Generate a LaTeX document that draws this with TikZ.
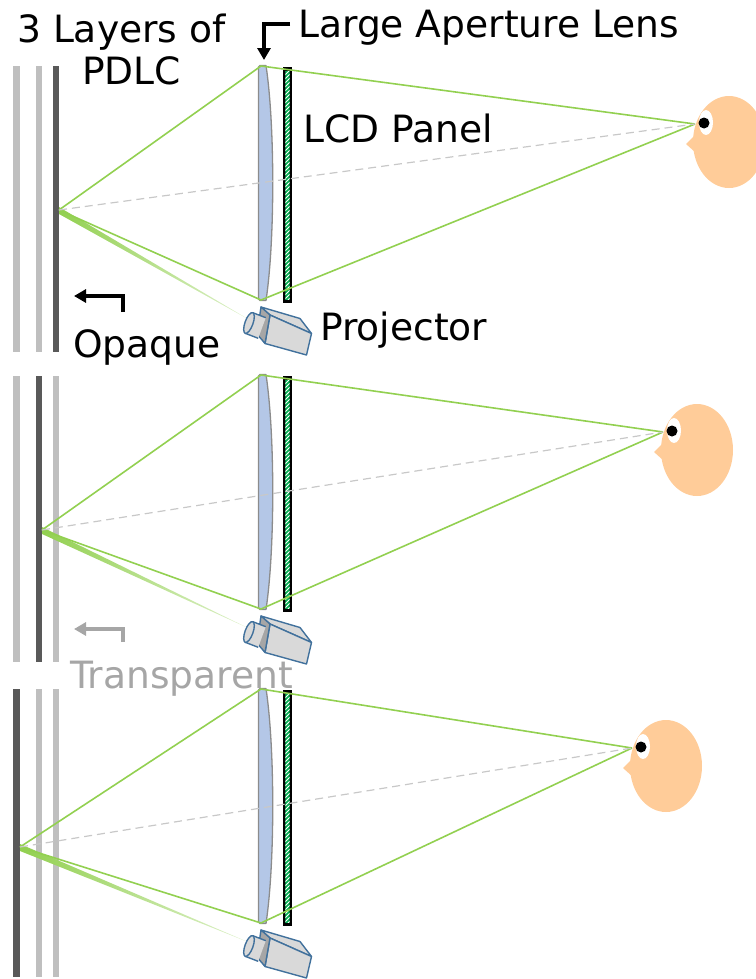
\documentclass[tikz,border=0pt]{standalone}
\usepackage{fontspec}
\setmainfont{DejaVu Sans}
\usetikzlibrary{arrows.meta,calc}

\definecolor{raygreen}{HTML}{92D050}
\definecolor{axisgray}{HTML}{C8C8C8}
\definecolor{layerlight}{HTML}{BFBFBF}
\definecolor{layerdark}{HTML}{595959}
\definecolor{lensfill}{HTML}{B4C7E7}
\definecolor{lensedge}{HTML}{8C8C8C}
\definecolor{lcdgreen}{HTML}{00B050}
\definecolor{skin}{HTML}{FFCC99}
\definecolor{camedge}{HTML}{41719C}
\definecolor{camfill}{HTML}{D9D9D9}
\definecolor{camdark}{HTML}{A6A6A6}
\definecolor{labelgray}{HTML}{A6A6A6}

\tikzset{
  ray/.style={draw=raygreen, line width=1.6bp, line join=round},
  opticaxis/.style={draw=axisgray, line width=1.2bp, dash pattern=on 8bp off 5bp},
  pdlcbar/.style={line width=6.5bp},
  lensbody/.style={fill=lensfill, draw=lensedge, line width=1.3bp, line join=round},
  txt/.style={inner sep=0pt, anchor=base west, font=\fontsize{37.6bp}{45bp}\selectfont},
  pointer/.style={line width=4.3bp, -{Triangle[length=12bp,width=13bp]}},
  camface/.style={fill=camfill, draw=camedge, line width=1.4bp, line join=round},
}

\begin{document}
\begin{tikzpicture}[x=1bp,y=-1bp]
\useasboundingbox (0,0) rectangle (756,979);
\clip (0,0) rectangle (756,979);

% three stacked set-ups: PDLC stack, lens, LCD, projector and viewer
\foreach \p/\lt/\lb/\dk/\vx/\vy/\ly/\ex/\ey in
  {a/66/352/3/59/210/66/695/124,
   b/376/662/2/42/530/375/663/432,
   c/689/977/1/20/847/689/632/748}{
  % PDLC layers, the opaque one dark
  \foreach \i/\lx in {1/16.5,2/39,3/56}{
    \ifnum\i=\dk \def\lc{layerdark}\else\def\lc{layerlight}\fi
    \draw[pdlcbar, draw=\lc] (\lx,\lt) -- (\lx,\lb);
  }
  \coordinate (v\p) at (\vx,\vy);
  \coordinate (lt\p) at (261,\ly);
  \coordinate (lb\p) at (261,\ly+234);
  \coordinate (e\p) at (\ex,\ey);
  \coordinate (pj\p) at (248,\ly+253);

  % projected beam onto the opaque layer
  \shade[left color=raygreen, right color=raygreen!30]
    ($(v\p)+(0,-3)$) -- (pj\p) -- ($(v\p)+(0,4)$) -- cycle;

  % large aperture lens
  \draw[lensbody] (258.5,\ly+1) -- (258.5,\ly+233) -- (260,\ly+234.5) -- (266,\ly+234.5)
    .. controls (275,\ly+175) and (275,\ly+59) .. (266,\ly-0.5)
    -- (260,\ly-0.5) -- cycle;

  % LCD panel with hatched active area
  \fill[black] (283,\ly+1) rectangle (292,\ly+237);
  \begin{scope}
    \clip (285.3,\ly+5) rectangle (289.7,\ly+233);
    \fill[lcdgreen] (284,\ly) rectangle (291,\ly+240);
    \foreach \k in {0,...,61}
      \draw[white, line width=0.9bp] (283,\ly+3+\k*4) -- (292,\ly+3+\k*4-9);
  \end{scope}

  % rays and optical axis
  \draw[ray] (v\p) -- (lt\p) -- (e\p);
  \draw[ray] (v\p) -- (lb\p) -- (e\p);
  \draw[opticaxis] (v\p) -- (e\p);

  % viewer head
  \fill[skin] (\ex+34,\ey+18) ellipse [x radius=36, y radius=46];
  \fill[skin] (\ex+3,\ey+8) -- (\ex-9,\ey+20) -- (\ex+1,\ey+29) -- (\ex+10,\ey+20) -- cycle;
  \fill[white] (\ex+11,\ey-1.5) ellipse [x radius=7, y radius=12.5];
  \fill[black] (\ex+9,\ey-1) circle [radius=5.5];

  % projector: box body seen from above-front, lens barrel in front
  \begin{scope}[shift={(278,\ly+265)}]
    \draw[camface] (-17,-24) -- (22,-12.5) -- (33.5,2.5) -- (-8,-16) -- cycle;
    \draw[camface] (-8,-16) -- (33.5,2.5) -- (28.5,24) -- (-13,12.5) -- cycle;
    \draw[camface, fill=camdark] (-17,-24) -- (-8,-16) -- (-13,12.5) -- (-21,3) -- cycle;
    \fill[camfill] (-25.2,-18.3) -- (-12.2,-13.3) -- (-19.8,7.3) -- (-32.8,2.3) -- cycle;
    \draw[camedge, line width=1.4bp] (-25.2,-18.3) -- (-12.2,-13.3)
      (-32.8,2.3) -- (-19.8,7.3);
    \draw[camface, rotate around={-20:(-29,-8)}] (-29,-8) ellipse [x radius=4, y radius=11];
  \end{scope}
}

% labels
\node[txt] (lenslabel) at (298,37) {Large Aperture Lens};
\node[txt] (pdlcA) at (17,42) {3 Layers of};
\node[txt] (pdlcB) at (82,84) {PDLC};
\node[txt] (lcdlabel) at (303,142) {LCD Panel};
\node[txt] (projlabel) at (320,340) {Projector};
\node[txt] (opaque) at (73,357) {Opaque};
\node[txt, text=labelgray] (transp) at (70,688) {Transparent};

% pointers
\coordinate (lensA) at (290,24);
\coordinate (lensB) at (264,24);
\coordinate (lensC) at (264,60);
\draw[pointer] (lensA) -- (lensB) -- (lensC);
\coordinate (opA) at (123,312);
\coordinate (opB) at (123,296);
\coordinate (opC) at (74,296);
\draw[pointer] (opA) -- (opB) -- (opC);
\coordinate (trA) at (123,642);
\coordinate (trB) at (123,629);
\coordinate (trC) at (74,629);
\draw[pointer, draw=labelgray] (trA) -- (trB) -- (trC);
\end{tikzpicture}
\end{document}
